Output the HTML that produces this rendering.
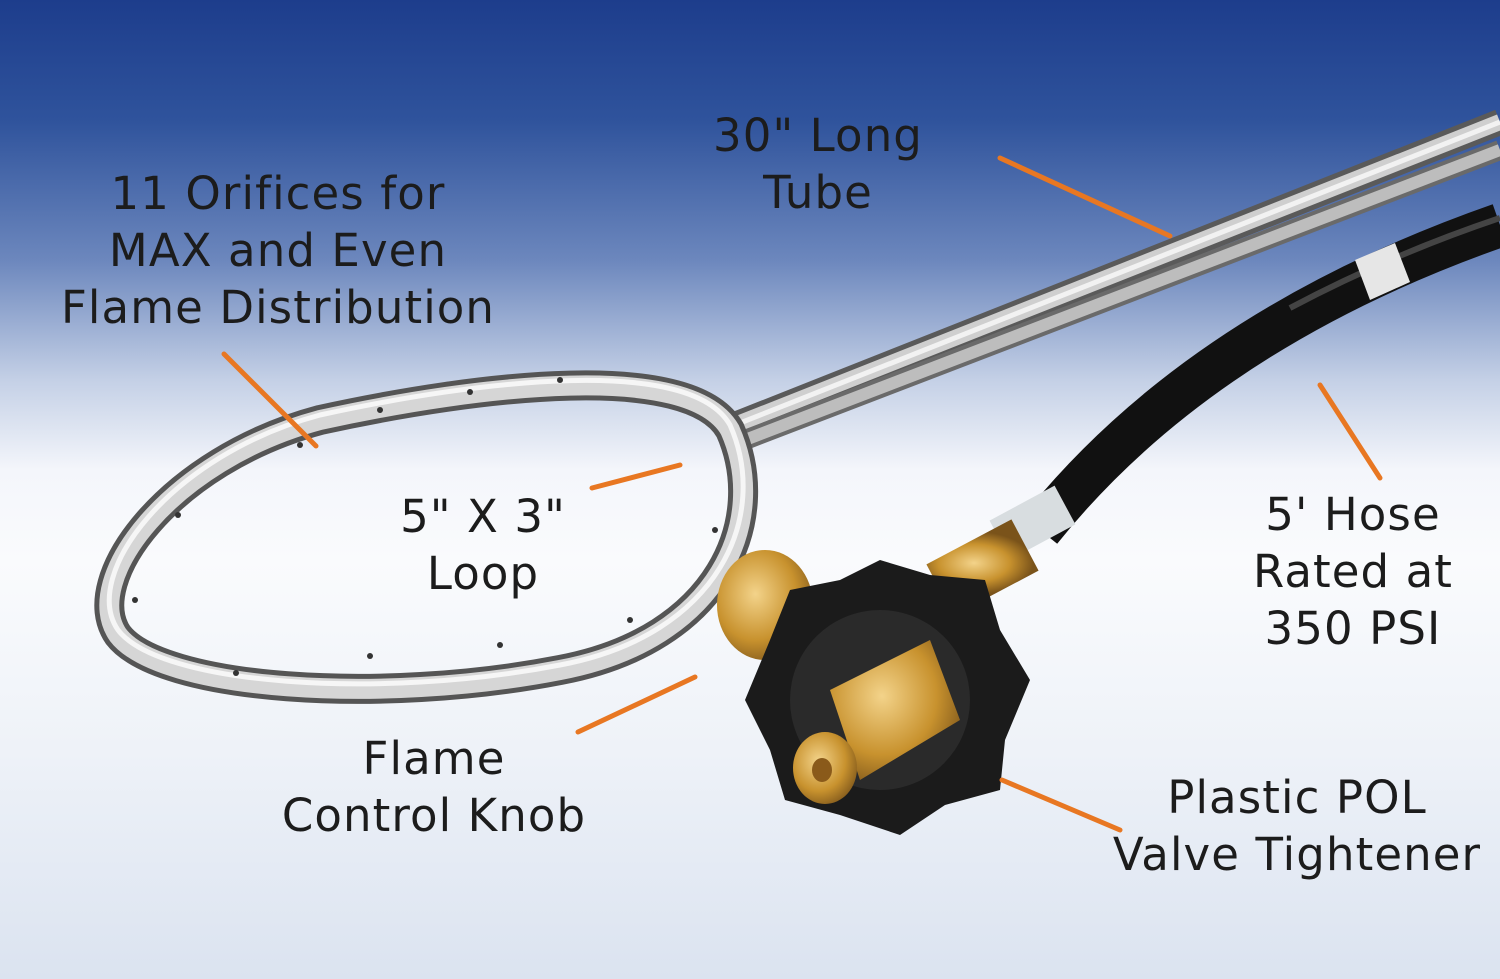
<!DOCTYPE html>
<html><head><meta charset="utf-8"><style>
html,body{margin:0;padding:0}
body{width:1500px;height:979px;overflow:hidden;position:relative;
background:linear-gradient(180deg,#1d3d8c 0px,#2f539c 120px,#6c87bd 260px,#c4d0e6 380px,#f4f6fb 470px,#fafbfd 560px,#eef2f8 750px,#dbe3f0 979px);
font-family:"DejaVu Sans","Liberation Sans",sans-serif;}
svg{position:absolute;left:0;top:0}
.t{position:absolute;color:#1c1c1c;font-size:45px;line-height:57px;letter-spacing:1.1px;text-align:center;white-space:nowrap;transform:translateX(-50%)}
</style></head><body>
<svg width="1500" height="979" viewBox="0 0 1500 979">
<defs>
<radialGradient id="brass" cx=".4" cy=".4" r=".7"><stop offset="0" stop-color="#f3d38a"/><stop offset=".6" stop-color="#c8922e"/><stop offset="1" stop-color="#7a531a"/></radialGradient>
</defs>
<!-- tube rods -->
<path d="M735 425 L1500 122" stroke="#5a5a5a" stroke-width="26" fill="none"/>
<path d="M735 425 L1500 122" stroke="#cfcfcf" stroke-width="16" fill="none"/>
<path d="M735 425 L1500 122" stroke="#f2f2f2" stroke-width="5" fill="none"/>
<path d="M745 440 L1500 150" stroke="#6a6a6a" stroke-width="20" fill="none"/>
<path d="M745 440 L1500 150" stroke="#bdbdbd" stroke-width="12" fill="none"/>
<!-- hose -->
<path d="M1040 530 Q1200 330 1500 225" stroke="#111" stroke-width="44" fill="none"/>
<path d="M1290 308 Q1390 255 1500 218" stroke="#444" stroke-width="6" fill="none"/>
<path d="M1355 260 L1395 243 L1410 282 L1370 300 Z" fill="#e6e6e6"/>
<!-- loop -->
<path d="M730 430 C770 520 720 640 560 670 C380 705 160 690 118 635 C80 580 170 460 320 420 C480 385 690 360 730 430 Z" fill="none" stroke="#555" stroke-width="30"/>
<path d="M730 430 C770 520 720 640 560 670 C380 705 160 690 118 635 C80 580 170 460 320 420 C480 385 690 360 730 430 Z" fill="none" stroke="#d6d6d6" stroke-width="20"/>
<path d="M730 430 C770 520 720 640 560 670 C380 705 160 690 118 635 C80 580 170 460 320 420 C480 385 690 360 730 430 Z" fill="none" stroke="#f6f6f6" stroke-width="5" transform="translate(0,-5)"/>
<g fill="#333"><circle cx="300" cy="445" r="3"/><circle cx="380" cy="410" r="3"/><circle cx="470" cy="392" r="3"/><circle cx="560" cy="380" r="3"/><circle cx="178" cy="515" r="3"/><circle cx="135" cy="600" r="3"/><circle cx="236" cy="673" r="3"/><circle cx="370" cy="656" r="3"/><circle cx="500" cy="645" r="3"/><circle cx="630" cy="620" r="3"/><circle cx="715" cy="530" r="3"/></g>
<!-- fittings -->
<path d="M1000 540 L1065 505" stroke="#d8dde0" stroke-width="44" fill="none"/>
<path d="M940 590 L1025 545" stroke="url(#brass)" stroke-width="58" fill="none"/>
<ellipse cx="765" cy="605" rx="48" ry="55" fill="url(#brass)"/>
<!-- black knob -->
<path d="M880 560 L930 575 L985 580 L1000 630 L1030 680 L1005 740 L1000 790 L945 805 L900 835 L840 815 L785 800 L770 750 L745 700 L770 640 L790 590 L840 580 Z" fill="#1b1b1b"/>
<circle cx="880" cy="700" r="90" fill="#2a2a2a"/>
<path d="M830 690 L930 640 L960 720 L860 780 Z" fill="url(#brass)"/>
<ellipse cx="825" cy="768" rx="32" ry="36" fill="url(#brass)"/>
<ellipse cx="822" cy="770" rx="10" ry="12" fill="#8a5a1a"/>
<!-- orange leaders -->
<g stroke="#e87722" stroke-width="5" stroke-linecap="round">
<line x1="1000" y1="158" x2="1170" y2="236"/>
<line x1="224" y1="354" x2="316" y2="446"/>
<line x1="592" y1="488" x2="680" y2="465"/>
<line x1="1320" y1="385" x2="1380" y2="478"/>
<line x1="578" y1="732" x2="695" y2="677"/>
<line x1="1002" y1="780" x2="1120" y2="830"/>
</g>
</svg>
<div class="t" style="left:818px;top:107px">30" Long<br>Tube</div>
<div class="t" style="left:278px;top:165px">11 Orifices for<br>MAX and Even<br>Flame Distribution</div>
<div class="t" style="left:483px;top:488px">5" X 3"<br>Loop</div>
<div class="t" style="left:1353px;top:486px">5' Hose<br>Rated at<br>350 PSI</div>
<div class="t" style="left:434px;top:730px">Flame<br>Control Knob</div>
<div class="t" style="left:1297px;top:769px">Plastic POL<br>Valve Tightener</div>
</body></html>
